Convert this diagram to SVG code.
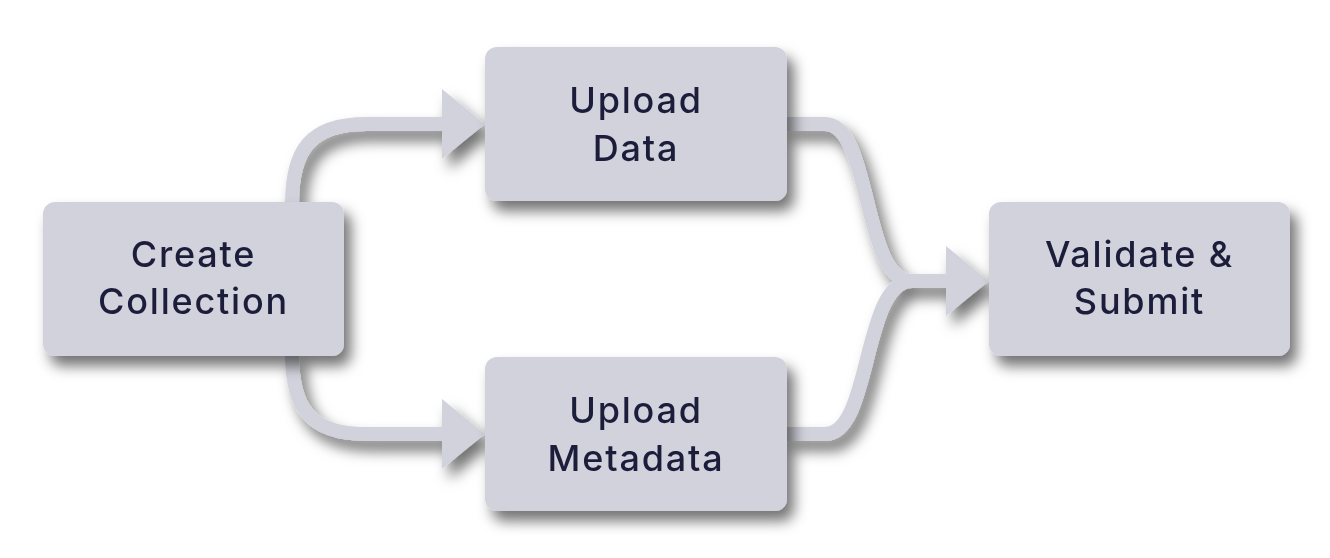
<svg xmlns="http://www.w3.org/2000/svg" width="1330" height="558" viewBox="0 0 1330 558">
  <defs>
    <filter id="shadow" x="-20%" y="-20%" width="150%" height="160%">
      <feDropShadow dx="7" dy="10" stdDeviation="7" flood-color="#000" flood-opacity="0.55"/>
    </filter>
  </defs>
  <style>
    .box { fill: #D2D2DC; }
    .edge { fill: none; stroke: #D2D2DC; stroke-width: 14; }
    .head { fill: #D2D2DC; }
    .label { font-family: "Inter", "DejaVu Sans", "Liberation Sans", sans-serif; font-weight: 500; font-size: 36px; fill: #1B1F3B; text-anchor: middle; letter-spacing: 1.8px; }
  </style>
  <rect width="1330" height="558" fill="#FFFFFF"/>
  <g id="connectors" filter="url(#shadow)">
    <path class="edge" d="M292,204 C292,150 310,124 366,124 L446,124"/>
    <polygon class="head" points="442,89 485,124 442,159"/>
    <path class="edge" d="M292,354 C292,408 310,434 366,434 L446,434"/>
    <polygon class="head" points="442,399 485,434 442,469"/>
    <path class="edge" d="M785,124 L825,124 C872,124 862,281 912,281 L950,281"/>
    <path class="edge" d="M785,434 L825,434 C872,434 862,281 912,281"/>
    <polygon class="head" points="946,246 989,281 946,316"/>
  </g>
  <g id="create-collection" filter="url(#shadow)">
    <rect class="box" x="43" y="202" width="301" height="154" rx="12"/>
    <text class="label" x="193.5" y="267">Create</text>
    <text class="label" x="193.5" y="314">Collection</text>
  </g>
  <g id="upload-data" filter="url(#shadow)">
    <rect class="box" x="485" y="47" width="302" height="154" rx="12"/>
    <text class="label" x="636" y="113">Upload</text>
    <text class="label" x="636" y="161">Data</text>
  </g>
  <g id="upload-metadata" filter="url(#shadow)">
    <rect class="box" x="485" y="357" width="302" height="154" rx="12"/>
    <text class="label" x="636" y="423">Upload</text>
    <text class="label" x="636" y="471">Metadata</text>
  </g>
  <g id="validate-submit" filter="url(#shadow)">
    <rect class="box" x="989" y="202" width="301" height="154" rx="12"/>
    <text class="label" x="1139.5" y="267">Validate &amp;</text>
    <text class="label" x="1139.5" y="314">Submit</text>
  </g>
</svg>
